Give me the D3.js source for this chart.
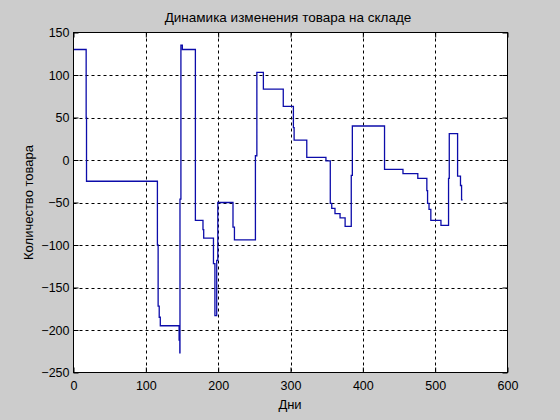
<!DOCTYPE html>
<html>
<head>
<meta charset="utf-8">
<script src="https://cdn.jsdelivr.net/npm/d3@7"></script>
<style>
  html, body { margin: 0; padding: 0; background: #cccccc; }
  svg { display: block; }
  text { font-family: Arial, "Liberation Sans", sans-serif; fill: #000; }
</style>
</head>
<body>
<svg id="chart" width="560" height="420"></svg>
<script>
// Data: stairs (value holds from this day until next)
const days = [0, 17.5, 18, 116, 117, 118.5, 120, 146, 147, 147.2, 148.5, 150.5, 168.5, 179, 180,
  193.5, 195.5, 198, 199.5, 220.5, 222.5, 251.5, 253.5, 262.5, 290, 304, 305, 322.5, 349, 355,
  357, 361.5, 368.5, 375.5, 384, 385.5, 430, 455.5, 476, 488.5, 489.5, 491.5, 494, 508, 518.5,
  519.5, 531, 535, 536.5, 538];
const stock = [130, 50, -25, -100, -172, -185, -195, -212, -227, -46, 135, 130, -71, -82, -92,
  -122, -183, -118, -50, -79, -94, 5, 103, 83.5, 63, 38, 23.5, 3, -1, -51,
  -57, -63, -68, -78, -18, 40, -11, -16, -21.5, -36, -51, -58, -71, -77, -21.5,
  31, -19, -30, -47, -47];
const xTicks = [0, 100, 200, 300, 400, 500, 600];
const yTicks = [-250, -200, -150, -100, -50, 0, 50, 100, 150];
const title = "Динамика изменения товара на складе";
const xLabel = "Дни";
const yLabel = "Количество товара";

const svg = d3.select("#chart");
const m = {left: 73.5, right: 507.5, top: 32.5, bottom: 372.5};
const x = d3.scaleLinear().domain([0, 600]).range([m.left, m.right]);
const y = d3.scaleLinear().domain([-250, 150]).range([m.bottom, m.top]);

svg.append("rect").attr("width", 560).attr("height", 420).attr("fill", "#cccccc");
svg.append("rect").attr("x", m.left).attr("y", m.top)
  .attr("width", m.right - m.left).attr("height", m.bottom - m.top).attr("fill", "#fff");

// grid
const g = svg.append("g");
g.selectAll(".vg").data(xTicks.slice(1, -1)).join("line")
  .attr("x1", d => Math.round(x(d)) + 0.5).attr("x2", d => Math.round(x(d)) + 0.5)
  .attr("y1", m.top).attr("y2", m.bottom)
  .attr("stroke", "#000").attr("stroke-width", 1).attr("stroke-dasharray", "3,3");
g.selectAll(".hg").data(yTicks.slice(1, -1)).join("line")
  .attr("y1", d => Math.round(y(d)) + 0.5).attr("y2", d => Math.round(y(d)) + 0.5)
  .attr("x1", m.left).attr("x2", m.right)
  .attr("stroke", "#000").attr("stroke-width", 1).attr("stroke-dasharray", "3,3");

// data line
const pts = days.map((d, i) => [d, stock[i]]);
const line = d3.line().x(d => x(d[0])).y(d => y(d[1])).curve(d3.curveStepAfter);
svg.append("path").datum(pts).attr("d", line)
  .attr("fill", "none").attr("stroke", "#0c0caa").attr("stroke-width", 1.3);

// axes
const xAxis = d3.axisBottom(x).tickValues(xTicks).tickSizeInner(-5).tickSizeOuter(0).tickPadding(8);
const yAxis = d3.axisLeft(y).tickValues(yTicks).tickSizeInner(-5).tickSizeOuter(0).tickPadding(8);
const xa = svg.append("g").attr("transform", `translate(0,${m.bottom})`).call(xAxis);
const ya = svg.append("g").attr("transform", `translate(${m.left},0)`).call(yAxis);
[xa, ya].forEach(a => {
  a.select(".domain").remove();
  a.selectAll("text").attr("font-size", 12.5).attr("font-family", "Arial, 'Liberation Sans', sans-serif").attr("fill", "#000");
  a.selectAll("line").attr("stroke", "#000");
});
xa.selectAll("text").attr("dy", "0.71em").attr("y", 9);
ya.selectAll("text").attr("x", -4);
// mirrored ticks top/right
const xt = d3.axisTop(x).tickValues(xTicks).tickSizeInner(-5).tickSizeOuter(0).tickFormat("");
const yt = d3.axisRight(y).tickValues(yTicks).tickSizeInner(-5).tickSizeOuter(0).tickFormat("");
const xta = svg.append("g").attr("transform", `translate(0,${m.top})`).call(xt);
const yta = svg.append("g").attr("transform", `translate(${m.right},0)`).call(yt);
[xta, yta].forEach(a => { a.select(".domain").remove(); a.selectAll("line").attr("stroke", "#000"); });

// frame
svg.append("rect").attr("x", m.left).attr("y", m.top)
  .attr("width", m.right - m.left).attr("height", m.bottom - m.top)
  .attr("fill", "none").attr("stroke", "#000").attr("stroke-width", 1);

// labels
svg.append("text").attr("x", 288).attr("y", 22)
  .attr("text-anchor", "middle").attr("font-size", 13.5).text(title);
svg.append("text").attr("x", 290).attr("y", 409)
  .attr("text-anchor", "middle").attr("font-size", 13).text(xLabel);
svg.append("text").attr("transform", `translate(33,${(m.top + m.bottom) / 2}) rotate(-90)`)
  .attr("text-anchor", "middle").attr("font-size", 13).text(yLabel);
</script>
</body>
</html>
